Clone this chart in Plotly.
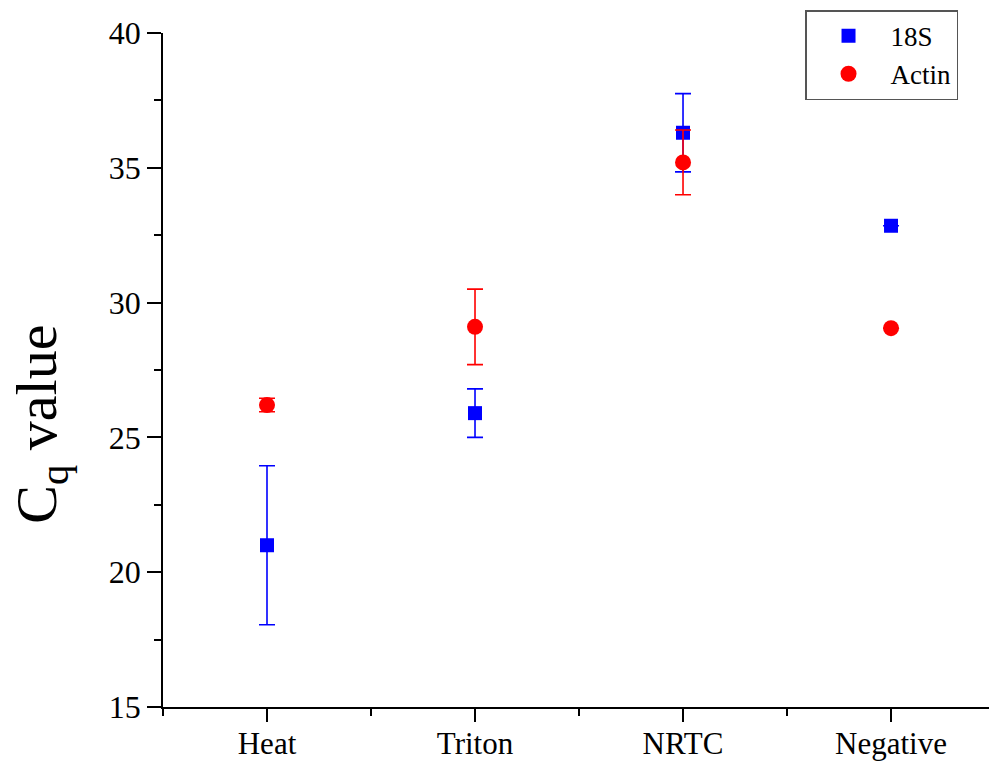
import plotly.graph_objects as go

# Sample preparation methods on the x axis
categories = ["Heat", "Triton", "NRTC", "Negative"]

# Mean Cq values and their standard deviations per reference gene
cq_18s = [21.0, 25.9, 36.3, 32.85]
sd_18s = [2.95, 0.9, 1.45, 0.0]
cq_actin = [26.2, 29.1, 35.2, 29.05]
sd_actin = [0.25, 1.4, 1.2, 0.0]

y_ticks = [15, 20, 25, 30, 35, 40]

x_pos = list(range(len(categories)))
serif = "Liberation Serif, Times New Roman, serif"

fig = go.Figure()
fig.add_trace(go.Scatter(
    x=x_pos, y=cq_18s, mode="markers", name="18S",
    marker=dict(symbol="square", size=14, color="#0000ff"),
    error_y=dict(type="data", array=sd_18s, visible=True,
                 color="#0000ff", thickness=1.6, width=8),
))
fig.add_trace(go.Scatter(
    x=x_pos, y=cq_actin, mode="markers", name="Actin",
    marker=dict(symbol="circle", size=16, color="#ff0000"),
    error_y=dict(type="data", array=sd_actin, visible=True,
                 color="#ff0000", thickness=1.6, width=8),
))

fig.update_layout(
    width=989, height=762,
    margin=dict(l=163, r=0, t=33, b=55, autoexpand=False),
    paper_bgcolor="white", plot_bgcolor="white",
    font=dict(family=serif, color="black"),
    showlegend=True,
    legend=dict(
        x=0.9625, y=1.034, xanchor="right", yanchor="top",
        bordercolor="#555555", borderwidth=1.5, bgcolor="white",
        font=dict(size=27, family=serif), itemwidth=74,
    ),
    # y-axis title, placed as a rotated annotation
    annotations=[dict(
        text="C<sub>q</sub> value", textangle=-90,
        xref="paper", yref="paper", x=-0.148, y=0.42,
        xanchor="center", yanchor="middle", showarrow=False,
        font=dict(size=58, family=serif, color="black"),
    )],
)

fig.update_xaxes(
    range=[-0.5, 3.471], tickmode="array", tickvals=x_pos, ticktext=categories,
    showline=True, linecolor="black", linewidth=1.5, mirror=False,
    ticks="outside", ticklen=13, tickwidth=1.5, tickcolor="black",
    tickfont=dict(size=31, family=serif), ticklabelstandoff=-5,
    minor=dict(tick0=-0.5, dtick=1, ticks="outside", ticklen=7,
               tickwidth=1.5, tickcolor="black"),
    showgrid=False, zeroline=False, automargin=False,
)
fig.update_yaxes(
    range=[15, 40], tickmode="array", tickvals=y_ticks,
    showline=True, linecolor="black", linewidth=1.5, mirror=False,
    ticks="outside", ticklen=14, tickwidth=1.5, tickcolor="black",
    tickfont=dict(size=32, family=serif),
    minor=dict(tick0=17.5, dtick=5, ticks="outside", ticklen=7,
               tickwidth=1.5, tickcolor="black"),
    showgrid=False, zeroline=False, automargin=False,
)

fig.write_html("out.html")
